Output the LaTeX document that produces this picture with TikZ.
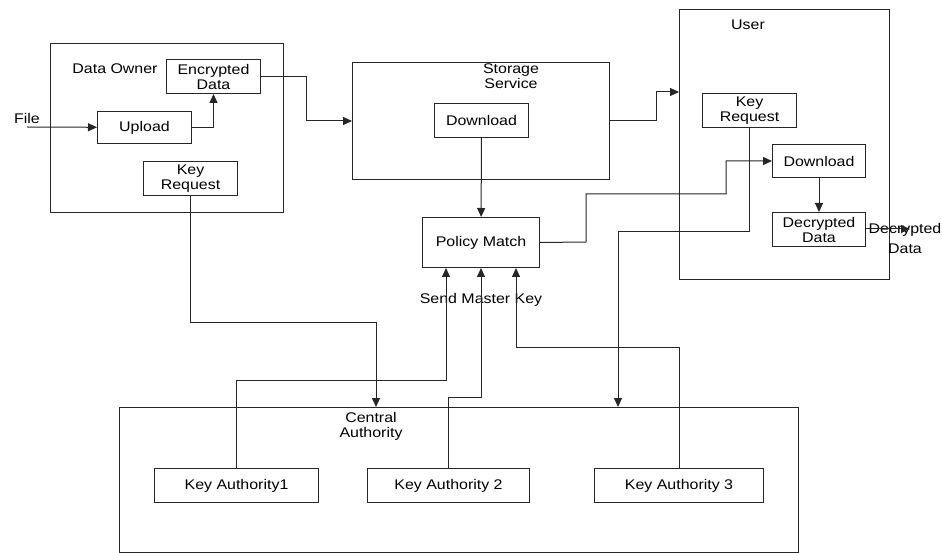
\documentclass[tikz,border=0pt]{standalone}
\usepackage{fontspec}
\setmainfont{Liberation Sans}[FakeStretch=1.14]
\usetikzlibrary{arrows.meta}

\begin{document}
\begin{tikzpicture}[x=1pt, y=-1pt,
    font=\fontsize{14}{15}\selectfont,
    group/.style={rectangle, draw=black!85, line width=1pt, anchor=north west, inner sep=0pt},
    box/.style={rectangle, draw=black!85, line width=1pt, anchor=north west,
                align=center, inner sep=1pt},
    title/.style={align=center, inner sep=0pt},
    arrow/.style={-{Triangle[length=9pt,width=8pt]}, line width=1pt, draw=black!85}
  ]
  \useasboundingbox (0,0) rectangle (942,553);

  % the four big blocks
  \node[group, minimum width=233pt, minimum height=169pt] (owner) at (50,43) {};
  \node[group, minimum width=257pt, minimum height=117pt] (storage) at (352,62) {};
  \node[group, minimum width=210pt, minimum height=270pt] (user) at (679,9) {};
  \node[group, minimum width=679pt, minimum height=145pt] (central) at (119,407) {};

  \node[title] (ownerlbl) at (115,69) {Data Owner};
  \node[title] (storagelbl) at (511,76) {Storage\\Service};
  \node[title] (userlbl) at (748,25) {User};
  \node[title] (centrallbl) at (371,426) {Central\\Authority};

  % data owner
  \node[box, minimum width=94pt, minimum height=34pt] (enc) at (166,59) {Encrypted\\Data};
  \node[box, minimum width=94pt, minimum height=32pt] (upload) at (97,111) {Upload};
  \node[box, minimum width=94pt, minimum height=34pt] (okey) at (143,161) {Key\\Request};

  % storage service
  \node[box, minimum width=94pt, minimum height=34pt] (sdown) at (434,103) {Download};
  \node[box, minimum width=117pt, minimum height=50pt] (policy) at (422,217) {Policy Match};

  % user
  \node[box, minimum width=94pt, minimum height=34pt] (ukey) at (702,93) {Key\\Request};
  \node[box, minimum width=93pt, minimum height=33pt] (udown) at (772,144) {Download};
  \node[box, minimum width=93pt, minimum height=34pt] (dec) at (772,212) {Decrypted\\Data};

  % central authority
  \node[box, minimum width=164pt, minimum height=34pt] (ka1) at (154,468) {Key Authority1};
  \node[box, minimum width=162pt, minimum height=34pt] (ka2) at (367,468) {Key Authority 2};
  \node[box, minimum width=169pt, minimum height=34pt] (ka3) at (594,468) {Key Authority 3};

  % free labels and ends
  \node[title] (filelbl) at (27,118) {File};
  \coordinate (filein) at (27,127);
  \node[title, font=\fontsize{14}{20}\selectfont] (declbl) at (905,238) {Decrypted\\Data};
  \coordinate (decout) at (910,229);
  \node[title] (masterlbl) at (481,300) {Send Master Key};

  % connectors
  \draw[arrow] (filein) -- (upload);
  \draw[arrow] (upload) -| (enc);
  \draw[arrow] (enc.east) -- ++(45,0) |- (storage.west);
  \draw[arrow] (storage.east) -- ++(46,0) |- (user.west |- 0,92);
  \draw[arrow] (sdown) -- (policy);
  \draw[arrow] (policy.east) -- (586,242) -- (586,194) -- (726,194) |- (udown.west);
  \draw[arrow] (udown) -- (dec);
  \draw[arrow] (dec.east |- decout) -- (decout);
  \draw[arrow] (okey.south) |- (376,322) -- (376,0 |- central.north);
  \draw[arrow] (ukey.south) |- (618,232) -- (618,0 |- central.north);
  \draw[arrow] (ka1.north) |- (446,380) -- (446,0 |- policy.south);
  \draw[arrow] (ka2.north) |- (481,397) -- (481,0 |- policy.south);
  \draw[arrow] (ka3.north) |- (516,347) -- (516,0 |- policy.south);
\end{tikzpicture}
\end{document}
